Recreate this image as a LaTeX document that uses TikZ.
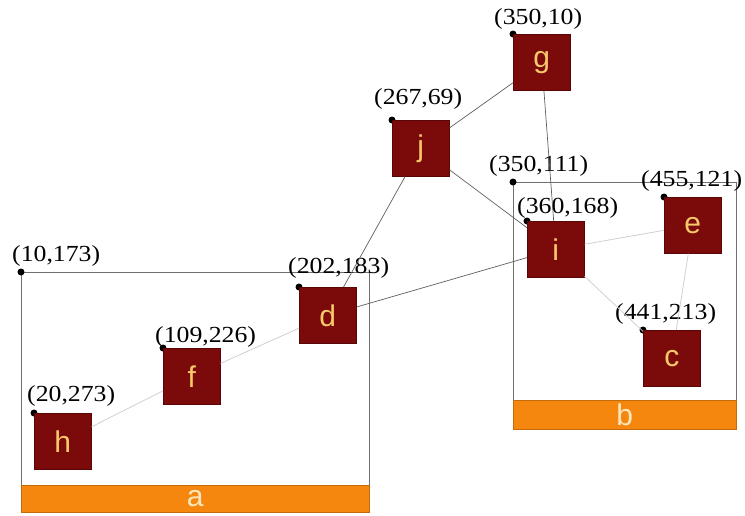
\documentclass[tikz,border=0pt]{standalone}
\usepackage{fontspec}
\setmainfont{Liberation Serif}
\newfontfamily\coordfont[FakeStretch=1.12]{Liberation Serif}
\newfontfamily\boxfont{Liberation Sans}
\definecolor{boxred}{HTML}{7B0B0B}
\definecolor{boxedge}{HTML}{5A0606}
\definecolor{lettercol}{HTML}{F7C86A}
\definecolor{barorange}{HTML}{F5870F}
\definecolor{barletter}{HTML}{FDE6BC}
\definecolor{framegray}{HTML}{707070}
\definecolor{darklink}{HTML}{5E5E5E}
\definecolor{lightlink}{HTML}{CFCFCF}

\tikzset{
  vbox/.style={rectangle, anchor=north west, fill=boxred, draw=boxedge, line width=0.6pt,
    minimum width=57pt, minimum height=56pt, inner sep=0pt,
    text=lettercol, font=\boxfont\fontsize{30}{30}\selectfont},
  pin/.style={circle, fill=black, minimum size=7pt, inner sep=0pt},
  coordlabel/.style={anchor=base west, inner sep=0pt, font=\coordfont\fontsize{23}{23}\selectfont},
  groupframe/.style={draw=framegray, line width=0.9pt},
  bar/.style={rectangle, anchor=north west, fill=barorange, draw=barorange!80!black, line width=0.6pt,
    inner sep=0pt, text=barletter, font=\boxfont\fontsize{30}{30}\selectfont},
  outerlink/.style={draw=darklink, line width=0.7pt},
  innerlink/.style={draw=lightlink, line width=0.8pt},
}

\begin{document}
\begin{tikzpicture}[x=1pt, y=-1pt]
\useasboundingbox (0,0) rectangle (745,515);

% group frames with their title bars
\draw[groupframe] (21,272) rectangle (369,512);
\node[bar, minimum width=348pt, minimum height=27pt] (bara) at (21,485) {a};
\draw[groupframe] (513,182) rectangle (736,429);
\node[bar, minimum width=223pt, minimum height=29pt] (barb) at (513,400) {b};

% corner pins of the frames
\node[pin] (pa) at (21,272) {};
\node[pin] (pb) at (513,182) {};
\node[coordlabel] (la) at (12,261) {(10,173)};
\node[coordlabel] (lb) at (489,171) {(350,111)};

% vertices: pin at the top-left corner, box hanging from it
\node[pin] (pg) at (513,34) {};
\node[vbox] (g) at (pg.center) {g};
\node[coordlabel] (lg) at (494,24) {(350,10)};

\node[pin] (pj) at (392,120) {};
\node[vbox] (j) at (pj.center) {j};
\node[coordlabel] (lj) at (374,104) {(267,69)};

\node[pin] (pd) at (299,287) {};
\node[vbox] (d) at (pd.center) {d};
\node[coordlabel] (ld) at (288,273) {(202,183)};

\node[pin] (pf) at (163,348) {};
\node[vbox] (f) at (pf.center) {f};
\node[coordlabel] (lf) at (155,342) {(109,226)};

\node[pin] (ph) at (34,413) {};
\node[vbox] (h) at (ph.center) {h};
\node[coordlabel] (lh) at (27,401) {(20,273)};

\node[pin] (pi) at (527,221) {};
\node[vbox] (i) at (pi.center) {i};
\node[coordlabel] (li) at (517,213) {(360,168)};

\node[pin] (pe) at (664,197) {};
\node[vbox] (e) at (pe.center) {e};
\node[coordlabel] (le) at (641,186) {(455,121)};

\node[pin] (pc) at (643,330) {};
\node[vbox] (c) at (pc.center) {c};
\node[coordlabel] (lc) at (615,319) {(441,213)};

% links between groups
\draw[outerlink] (g) -- (j);
\draw[outerlink] (g) -- (i);
\draw[outerlink] (j) -- (i);
\draw[outerlink] (j) -- (d);
\draw[outerlink] (d) -- (i);

% links inside groups
\draw[innerlink] (h) -- (f);
\draw[innerlink] (f) -- (d);
\draw[innerlink] (i) -- (e);
\draw[innerlink] (i) -- (c);
\draw[innerlink] (e) -- (c);
\end{tikzpicture}
\end{document}
